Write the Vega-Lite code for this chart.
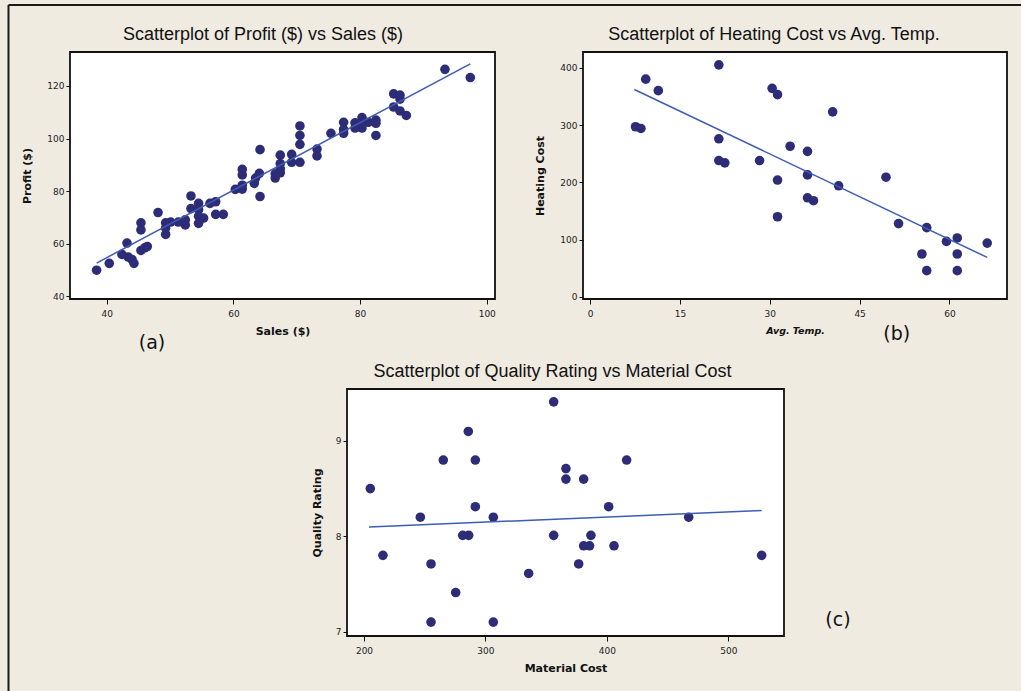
{
  "$schema": "https://vega.github.io/schema/vega-lite/v6.json",
  "autosize": {"type": "none"},
  "padding": {"left": 70, "top": 52, "right": 951, "bottom": 639},
  "background": "#efebe1",
  "config": {
    "view": {"stroke": "#111111", "strokeWidth": 1.8, "fill": "white"},
    "axis": {"grid": false, "domain": false, "tickColor": "#111111", "labelFont": "DejaVu Sans", "labelFontSize": 9, "labelColor": "#222222", "titleFont": "DejaVu Sans", "titleFontSize": 11, "titleFontWeight": "bold", "titleColor": "#111111"},
    "axisX": {"tickSize": 5, "labelPadding": 5, "titlePadding": 7},
    "axisY": {"tickSize": 4, "labelPadding": 2, "titlePadding": 14},
    "title": {"font": "Liberation Sans", "fontSize": 18, "fontWeight": "normal", "color": "#111111", "baseline": "alphabetic", "offset": 8}
  },
  "datasets": {
    "sales": [
      {"sales": 38.4, "profit": 50.0}, {"sales": 40.4, "profit": 52.6}, {"sales": 42.4, "profit": 56.0}, {"sales": 43.2, "profit": 60.3},
      {"sales": 43.4, "profit": 55.0}, {"sales": 44.0, "profit": 54.0}, {"sales": 44.3, "profit": 52.6}, {"sales": 45.4, "profit": 68.0},
      {"sales": 45.4, "profit": 65.3}, {"sales": 45.4, "profit": 57.5}, {"sales": 46.0, "profit": 58.5}, {"sales": 46.4, "profit": 59.0},
      {"sales": 48.1, "profit": 71.9}, {"sales": 49.3, "profit": 68.0}, {"sales": 49.3, "profit": 63.6}, {"sales": 49.3, "profit": 66.0},
      {"sales": 50.1, "profit": 68.3}, {"sales": 51.3, "profit": 68.3}, {"sales": 52.4, "profit": 67.2}, {"sales": 52.4, "profit": 69.1},
      {"sales": 53.3, "profit": 78.2}, {"sales": 53.3, "profit": 73.4}, {"sales": 54.5, "profit": 75.4}, {"sales": 54.5, "profit": 73.0},
      {"sales": 54.5, "profit": 67.8}, {"sales": 54.5, "profit": 70.5}, {"sales": 55.3, "profit": 69.8}, {"sales": 56.3, "profit": 75.4},
      {"sales": 57.2, "profit": 76.0}, {"sales": 57.2, "profit": 71.2}, {"sales": 58.4, "profit": 71.2}, {"sales": 60.3, "profit": 80.7},
      {"sales": 61.4, "profit": 80.8}, {"sales": 61.4, "profit": 82.3}, {"sales": 61.4, "profit": 86.2}, {"sales": 61.4, "profit": 88.3},
      {"sales": 63.3, "profit": 83.0}, {"sales": 63.5, "profit": 85.0}, {"sales": 64.1, "profit": 86.8}, {"sales": 64.2, "profit": 95.8},
      {"sales": 64.2, "profit": 78.0}, {"sales": 66.6, "profit": 85.0}, {"sales": 66.6, "profit": 86.6}, {"sales": 67.4, "profit": 87.0},
      {"sales": 67.4, "profit": 90.5}, {"sales": 67.4, "profit": 93.7}, {"sales": 67.4, "profit": 88.5}, {"sales": 69.2, "profit": 94.0},
      {"sales": 69.2, "profit": 91.0}, {"sales": 70.5, "profit": 91.0}, {"sales": 70.5, "profit": 97.8}, {"sales": 70.5, "profit": 101.2},
      {"sales": 70.5, "profit": 104.8}, {"sales": 73.2, "profit": 96.0}, {"sales": 73.2, "profit": 93.4}, {"sales": 75.4, "profit": 102.0},
      {"sales": 77.4, "profit": 106.2}, {"sales": 77.4, "profit": 103.5}, {"sales": 77.4, "profit": 102.0}, {"sales": 79.2, "profit": 106.0},
      {"sales": 79.2, "profit": 104.0}, {"sales": 80.3, "profit": 108.0}, {"sales": 80.3, "profit": 104.0}, {"sales": 80.0, "profit": 105.5},
      {"sales": 81.3, "profit": 106.2}, {"sales": 82.5, "profit": 107.0}, {"sales": 82.5, "profit": 105.8}, {"sales": 82.5, "profit": 101.2},
      {"sales": 85.3, "profit": 117.0}, {"sales": 85.3, "profit": 112.0}, {"sales": 86.3, "profit": 116.5}, {"sales": 86.3, "profit": 115.0},
      {"sales": 86.3, "profit": 110.5}, {"sales": 87.3, "profit": 108.8}, {"sales": 93.4, "profit": 126.3}, {"sales": 97.4, "profit": 123.2}
    ],
    "salesfit": [{"sales": 38.4, "profit": 52.7}, {"sales": 97.4, "profit": 128.4}],
    "heat": [
      {"temp": 7.6, "cost": 297}, {"temp": 8.5, "cost": 294}, {"temp": 9.3, "cost": 380}, {"temp": 11.4, "cost": 360},
      {"temp": 21.5, "cost": 405}, {"temp": 21.5, "cost": 276}, {"temp": 21.5, "cost": 238}, {"temp": 22.5, "cost": 234},
      {"temp": 28.3, "cost": 238}, {"temp": 30.4, "cost": 364}, {"temp": 31.3, "cost": 353}, {"temp": 31.3, "cost": 204},
      {"temp": 31.3, "cost": 140}, {"temp": 33.4, "cost": 263}, {"temp": 36.3, "cost": 254}, {"temp": 36.3, "cost": 213},
      {"temp": 36.3, "cost": 173}, {"temp": 37.3, "cost": 168}, {"temp": 40.5, "cost": 323}, {"temp": 41.5, "cost": 194},
      {"temp": 49.4, "cost": 209}, {"temp": 51.5, "cost": 128}, {"temp": 55.4, "cost": 75}, {"temp": 56.2, "cost": 121},
      {"temp": 56.2, "cost": 46}, {"temp": 59.5, "cost": 97}, {"temp": 61.3, "cost": 103}, {"temp": 61.3, "cost": 75},
      {"temp": 61.3, "cost": 46}, {"temp": 66.3, "cost": 94}
    ],
    "heatfit": [{"temp": 7.4, "cost": 362}, {"temp": 66.3, "cost": 69}],
    "quality": [
      {"material": 205.2, "rating": 8.5}, {"material": 215.6, "rating": 7.8}, {"material": 246.4, "rating": 8.2}, {"material": 255.2, "rating": 7.71},
      {"material": 255.2, "rating": 7.1}, {"material": 265.3, "rating": 8.8}, {"material": 275.5, "rating": 7.41}, {"material": 281.3, "rating": 8.01},
      {"material": 286.2, "rating": 8.01}, {"material": 285.9, "rating": 9.1}, {"material": 291.7, "rating": 8.8}, {"material": 291.7, "rating": 8.31},
      {"material": 306.5, "rating": 8.2}, {"material": 306.5, "rating": 7.1}, {"material": 335.6, "rating": 7.61}, {"material": 356.2, "rating": 9.41},
      {"material": 356.2, "rating": 8.01}, {"material": 366.3, "rating": 8.71}, {"material": 366.3, "rating": 8.6}, {"material": 376.8, "rating": 7.71},
      {"material": 380.9, "rating": 8.6}, {"material": 380.9, "rating": 7.9}, {"material": 385.8, "rating": 7.9}, {"material": 386.9, "rating": 8.01},
      {"material": 401.5, "rating": 8.31}, {"material": 405.9, "rating": 7.9}, {"material": 416.3, "rating": 8.8}, {"material": 467.4, "rating": 8.2},
      {"material": 527.5, "rating": 7.8}
    ],
    "qualfit": [{"material": 204.1, "rating": 8.098}, {"material": 527.5, "rating": 8.27}],
    "one": [{"id": 1}]
  },
  "bounds": "flush",
  "spacing": 337,
  "vconcat": [
    {
      "bounds": "flush",
      "spacing": 88,
      "hconcat": [
        {
          "width": 425,
          "height": 247,
          "title": {"text": "Scatterplot of Profit ($) vs Sales ($)", "dx": -19.5},
          "layer": [
            {
              "data": {"name": "sales"},
              "mark": {"type": "circle", "size": 92, "color": "#2d2c77", "opacity": 1},
              "encoding": {
                "x": {"field": "sales", "type": "quantitative", "scale": {"domain": [34.2, 101.3], "nice": false, "zero": false}, "axis": {"values": [40, 60, 80, 100], "title": "Sales ($)"}},
                "y": {"field": "profit", "type": "quantitative", "scale": {"domain": [39.05, 132.9], "nice": false, "zero": false}, "axis": {"values": [40, 60, 80, 100, 120], "title": "Profit ($)"}}
              }
            },
            {
              "data": {"name": "salesfit"},
              "mark": {"type": "line", "color": "#3d5cb5", "strokeWidth": 1.5},
              "encoding": {
                "x": {"field": "sales", "type": "quantitative"},
                "y": {"field": "profit", "type": "quantitative"}
              }
            },
            {
              "data": {"name": "one"},
              "mark": {"type": "text", "text": "(a)", "font": "DejaVu Sans", "fontSize": 19, "color": "#111111", "align": "center", "baseline": "middle"},
              "encoding": {
                "x": {"datum": 47.15, "type": "quantitative"},
                "y": {"datum": 22.3, "type": "quantitative"}
              }
            }
          ]
        },
        {
          "width": 424,
          "height": 247,
          "title": {"text": "Scatterplot of Heating Cost vs Avg. Temp.", "dx": -21},
          "layer": [
            {
              "data": {"name": "heat"},
              "mark": {"type": "circle", "size": 92, "color": "#2d2c77", "opacity": 1},
              "encoding": {
                "x": {"field": "temp", "type": "quantitative", "scale": {"domain": [-1.17, 69.6], "nice": false, "zero": false}, "axis": {"values": [0, 15, 30, 45, 60], "title": "Avg. Temp.", "titleFontStyle": "italic", "titleFontSize": 9.5}},
                "y": {"field": "cost", "type": "quantitative", "scale": {"domain": [-3.5, 427.4], "nice": false, "zero": false}, "axis": {"values": [0, 100, 200, 300, 400], "title": "Heating Cost"}}
              }
            },
            {
              "data": {"name": "heatfit"},
              "mark": {"type": "line", "color": "#3d5cb5", "strokeWidth": 1.5},
              "encoding": {
                "x": {"field": "temp", "type": "quantitative"},
                "y": {"field": "cost", "type": "quantitative"}
              }
            },
            {
              "data": {"name": "one"},
              "mark": {"type": "text", "text": "(b)", "font": "DejaVu Sans", "fontSize": 19, "color": "#111111", "align": "center", "baseline": "middle"},
              "encoding": {
                "x": {"datum": 51.2, "type": "quantitative"},
                "y": {"datum": -65.1, "type": "quantitative"}
              }
            }
          ]
        }
      ]
    },
    {
      "bounds": "flush",
      "spacing": 0,
      "hconcat": [
        {
          "width": 277,
          "height": 247,
          "view": {"stroke": null, "fill": null},
          "layer": [
            {
              "data": {"name": "one"},
              "mark": {"type": "rule", "color": "#1a1a1a", "strokeWidth": 2},
              "encoding": {
                "x": {"datum": -61.5, "type": "quantitative", "scale": {"domain": [0, 277], "nice": false, "zero": false}, "axis": null},
                "x2": {"datum": 951},
                "y": {"datum": 631, "type": "quantitative", "scale": {"domain": [0, 247], "nice": false, "zero": false}, "axis": null}
              }
            },
            {
              "data": {"name": "one"},
              "mark": {"type": "rule", "color": "#1a1a1a", "strokeWidth": 2},
              "encoding": {
                "x": {"datum": -61.5, "type": "quantitative"},
                "y": {"datum": 631, "type": "quantitative"},
                "y2": {"datum": -55}
              }
            },
            {
              "data": {"name": "one"},
              "mark": {"type": "text", "text": "(c)", "font": "DejaVu Sans", "fontSize": 19, "color": "#111111", "align": "center", "baseline": "middle"},
              "encoding": {
                "x": {"datum": 768, "type": "quantitative"},
                "y": {"datum": 16, "type": "quantitative"}
              }
            }
          ]
        },
        {
          "width": 437,
          "height": 247,
          "title": {"text": "Scatterplot of Quality Rating vs Material Cost", "dx": -13},
          "layer": [
            {
              "data": {"name": "quality"},
              "mark": {"type": "circle", "size": 92, "color": "#2d2c77", "opacity": 1},
              "encoding": {
                "x": {"field": "material", "type": "quantitative", "scale": {"domain": [186.0, 545.9], "nice": false, "zero": false}, "axis": {"values": [200, 300, 400, 500], "title": "Material Cost"}},
                "y": {"field": "rating", "type": "quantitative", "scale": {"domain": [6.954, 9.545], "nice": false, "zero": false}, "axis": {"values": [7, 8, 9], "format": "d", "title": "Quality Rating", "titlePadding": 13}}
              }
            },
            {
              "data": {"name": "qualfit"},
              "mark": {"type": "line", "color": "#3d5cb5", "strokeWidth": 1.5},
              "encoding": {
                "x": {"field": "material", "type": "quantitative"},
                "y": {"field": "rating", "type": "quantitative"}
              }
            }
          ]
        }
      ]
    }
  ]
}
